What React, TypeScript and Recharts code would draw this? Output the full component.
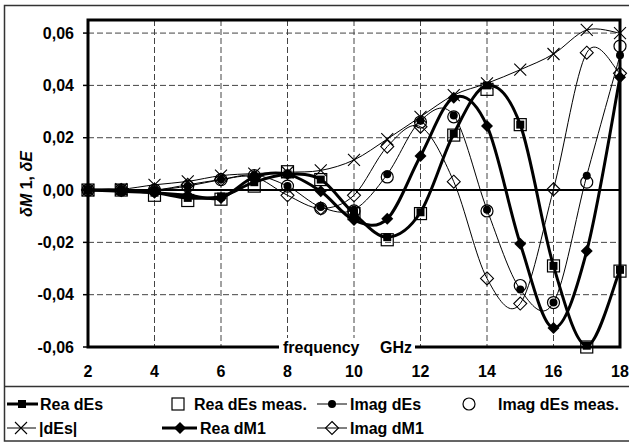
import React from 'react';
import { LineChart, Line, XAxis, YAxis, CartesianGrid, ReferenceLine, ReferenceArea } from 'recharts';

const frequency = [2, 3, 4, 5, 6, 7, 8, 9, 10, 11, 12, 13, 14, 15, 16, 17, 18];
const reaDEs = [0, -0.0005, -0.001, -0.003, -0.0025, 0.003, 0.006, 0.004, -0.009, -0.018, -0.0085, 0.0215, 0.04, 0.025, -0.029, -0.0595, -0.0305];
const reaDEsMeas = [0, 0, -0.002, -0.004, -0.0035, 0.0015, 0.007, 0.004, -0.009, -0.019, -0.009, 0.021, 0.0385, 0.025, -0.029, -0.06, -0.031];
const imagDEs = [0, 0, 0, 0.0015, 0.004, 0.0057, 0.0015, -0.0065, -0.0075, 0.006, 0.0265, 0.0285, -0.0075, -0.038, -0.043, 0.0055, 0.0515];
const imagDEsMeas = [0, 0, 0, 0.0015, 0.004, 0.0055, 0.0015, -0.007, -0.008, 0.005, 0.026, 0.028, -0.008, -0.0365, -0.043, 0.003, 0.055];
const absDEs = [0, 0.0003, 0.002, 0.0033, 0.0055, 0.0063, 0.0068, 0.0075, 0.0115, 0.0195, 0.028, 0.0363, 0.0408, 0.046, 0.052, 0.0612, 0.06];
const reaDM1 = [0, 0, -0.001, -0.002, -0.003, 0.005, 0.006, -0.0005, -0.0115, -0.011, 0.013, 0.0353, 0.0245, -0.0205, -0.0527, -0.0233, 0.0431];
const imagDM1 = [0, 0, 0, 0.002, 0.004, 0.005, -0.002, -0.007, -0.002, 0.0166, 0.0242, 0.0032, -0.0338, -0.0434, 0.0003, 0.0525, 0.0446];

const xTicks = [2, 4, 6, 8, 10, 12, 14, 16, 18];
const yTicks = [-0.06, -0.04, -0.02, 0, 0.02, 0.04, 0.06];

const seriesNames = ['Rea dEs', 'Rea dEs meas.', 'Imag dEs', 'Imag dEs meas.', '|dEs|', 'Rea dM1', 'Imag dM1'];

const data = frequency.map((f, i) => ({
  f,
  reaDEs: reaDEs[i],
  reaDEsMeas: reaDEsMeas[i],
  imagDEs: imagDEs[i],
  imagDEsMeas: imagDEsMeas[i],
  absDEs: absDEs[i],
  reaDM1: reaDM1[i],
  imagDM1: imagDM1[i],
}));

const FONT = '"Liberation Sans", Arial, Helvetica, sans-serif';

// Catmull-Rom smoothing (like Excel's smoothed lines)
const smooth: any = (ctx: any) => {
  let pts: number[][] = [];
  return {
    areaStart() {},
    areaEnd() {},
    lineStart() { pts = []; },
    point(x: number, y: number) { pts.push([+x, +y]); },
    lineEnd() {
      if (!pts.length) return;
      ctx.moveTo(pts[0][0], pts[0][1]);
      for (let i = 0; i < pts.length - 1; i++) {
        const p0 = pts[i - 1] || pts[i];
        const p1 = pts[i];
        const p2 = pts[i + 1];
        const p3 = pts[i + 2] || p2;
        ctx.bezierCurveTo(
          p1[0] + (p2[0] - p0[0]) / 6, p1[1] + (p2[1] - p0[1]) / 6,
          p2[0] - (p3[0] - p1[0]) / 6, p2[1] - (p3[1] - p1[1]) / 6,
          p2[0], p2[1]
        );
      }
    },
  };
};

const FilledSquare = ({ cx, cy }: any) => <rect x={cx - 4} y={cy - 4} width={8} height={8} fill="#000" />;
const OpenSquare = ({ cx, cy }: any) => <rect x={cx - 6} y={cy - 6} width={12} height={12} fill="none" stroke="#000" strokeWidth={1.2} />;
const FilledCircle = ({ cx, cy }: any) => <circle cx={cx} cy={cy} r={4} fill="#000" />;
const OpenCircle = ({ cx, cy }: any) => <circle cx={cx} cy={cy} r={6} fill="none" stroke="#000" strokeWidth={1.2} />;
const Cross = ({ cx, cy }: any) => (
  <path d={`M${cx - 6},${cy - 6}L${cx + 6},${cy + 6}M${cx - 6},${cy + 6}L${cx + 6},${cy - 6}`} stroke="#000" strokeWidth={1.1} fill="none" />
);
const FilledDiamond = ({ cx, cy }: any) => <path d={`M${cx},${cy - 6}L${cx + 6},${cy}L${cx},${cy + 6}L${cx - 6},${cy}Z`} fill="#000" />;
const OpenDiamond = ({ cx, cy }: any) => <path d={`M${cx},${cy - 6.5}L${cx + 6.5},${cy}L${cx},${cy + 6.5}L${cx - 6.5},${cy}Z`} fill="none" stroke="#000" strokeWidth={1.1} />;

const mkDot = (Shape: any, tag: string) => (p: any) => {
  if (p.cx == null || p.cy == null) return <g key={`${tag}-${p.index}`} />;
  return <g key={`${tag}-${p.index}`}><Shape cx={p.cx} cy={p.cy} /></g>;
};

const fmt = (v: number) => (Math.abs(v) < 1e-9 ? '0,00' : v.toFixed(2).replace('.', ','));

const tickStyle = { fill: '#000', fontSize: 16, fontWeight: 'bold', fontFamily: FONT } as any;

const LegendItem = ({ x1, x2, cx, cy, thick, Shape, label, tx }: any) => (
  <g>
    {x1 != null && <line x1={x1} x2={x2} y1={cy} y2={cy} stroke="#000" strokeWidth={thick ? 3 : 1} />}
    <Shape cx={cx} cy={cy} />
    <text x={tx} y={cy + 5.5} fontSize={16} fontWeight="bold" fontFamily={FONT} fill="#000">{label}</text>
  </g>
);

export default function App() {
  const r1 = 404;
  const r2 = 428;
  return (
    <div style={{ position: 'fixed', left: 0, top: 0, width: 629, height: 445, background: '#fff', overflow: 'hidden' }}>
      <LineChart width={629} height={445} data={data} margin={{ top: 20, right: 9, left: 0, bottom: 68 }}>
        <CartesianGrid stroke="#444" strokeDasharray="6 3" />
        <XAxis
          dataKey="f"
          type="number"
          domain={[2, 18]}
          ticks={xTicks}
          interval={0}
          axisLine={false}
          tickLine={false}
          tickSize={5}
          tickMargin={14}
          height={30}
          tick={tickStyle}
        />
        <YAxis
          type="number"
          domain={[-0.06, 0.065]}
          ticks={yTicks}
          interval={0}
          width={88}
          axisLine={false}
          tickLine={{ stroke: '#000', strokeWidth: 1.5 }}
          tickSize={5}
          tickMargin={9}
          tickFormatter={fmt}
          tick={tickStyle}
        />
        <ReferenceLine y={0} stroke="#000" strokeWidth={2} />
        <ReferenceArea x1={2} x2={18} y1={-0.06} y2={0.065} fill="none" fillOpacity={0} stroke="#000" strokeWidth={3} />
        <Line dataKey="reaDEs" name={seriesNames[0]} type={smooth} stroke="#000" strokeWidth={3} dot={mkDot(FilledSquare, 'a')} activeDot={false} isAnimationActive={false} />
        <Line dataKey="reaDEsMeas" name={seriesNames[1]} type="linear" stroke="none" strokeWidth={0} dot={mkDot(OpenSquare, 'b')} activeDot={false} isAnimationActive={false} />
        <Line dataKey="imagDEs" name={seriesNames[2]} type={smooth} stroke="#000" strokeWidth={1} dot={mkDot(FilledCircle, 'c')} activeDot={false} isAnimationActive={false} />
        <Line dataKey="imagDEsMeas" name={seriesNames[3]} type="linear" stroke="none" strokeWidth={0} dot={mkDot(OpenCircle, 'd')} activeDot={false} isAnimationActive={false} />
        <Line dataKey="absDEs" name={seriesNames[4]} type={smooth} stroke="#000" strokeWidth={1} dot={mkDot(Cross, 'e')} activeDot={false} isAnimationActive={false} />
        <Line dataKey="reaDM1" name={seriesNames[5]} type={smooth} stroke="#000" strokeWidth={3} dot={mkDot(FilledDiamond, 'f')} activeDot={false} isAnimationActive={false} />
        <Line dataKey="imagDM1" name={seriesNames[6]} type={smooth} stroke="#000" strokeWidth={1} dot={mkDot(OpenDiamond, 'g')} activeDot={false} isAnimationActive={false} />
      </LineChart>
      <svg width={629} height={445} style={{ position: 'absolute', left: 0, top: 0, pointerEvents: 'none' }}>
        <rect x={4.5} y={5.5} width={630} height={435.5} fill="none" stroke="#333" strokeWidth={1.5} />
        <line x1={4} x2={629} y1={386.5} y2={386.5} stroke="#333" strokeWidth={1.5} />
        <text transform="translate(32,184) rotate(-90)" textAnchor="middle" fontSize={16} fontWeight="bold" fontFamily={FONT} fill="#000">
          <tspan fontStyle="italic">δM</tspan>
          <tspan> 1, </tspan>
          <tspan fontStyle="italic">δE</tspan>
        </text>
        <rect x={279} y={338} width={136} height={18} fill="#fff" />
        <text x={283} y={353} fontSize={16} fontWeight="bold" fontFamily={FONT} fill="#000">frequency</text>
        <text x={380} y={353} fontSize={16} fontWeight="bold" fontFamily={FONT} fill="#000">GHz</text>
        <LegendItem x1={7} x2={38} cx={22} cy={r1} thick Shape={FilledSquare} label={seriesNames[0]} tx={40} />
        <LegendItem cx={178} cy={r1} Shape={OpenSquare} label={seriesNames[1]} tx={194} />
        <LegendItem x1={317} x2={347} cx={332} cy={r1} Shape={FilledCircle} label={seriesNames[2]} tx={350} />
        <LegendItem cx={469} cy={r1} Shape={OpenCircle} label={seriesNames[3]} tx={498} />
        <LegendItem x1={7} x2={36} cx={21} cy={r2} Shape={Cross} label={seriesNames[4]} tx={39} />
        <LegendItem x1={162} x2={197} cx={180} cy={r2} thick Shape={FilledDiamond} label={seriesNames[5]} tx={200} />
        <LegendItem x1={317} x2={347} cx={332} cy={r2} Shape={OpenDiamond} label={seriesNames[6]} tx={350} />
      </svg>
    </div>
  );
}
